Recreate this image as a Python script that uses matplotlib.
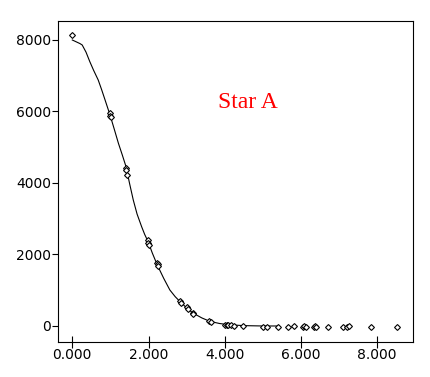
import numpy as np
import matplotlib
matplotlib.use("Agg")
import matplotlib.pyplot as plt

obs_x = [0.00, 0.98, 1.00, 1.02, 1.40, 1.41, 1.43, 1.98, 1.99, 2.02,
         2.22, 2.24, 2.26, 2.82, 2.84, 3.00, 3.03, 3.16, 3.18, 3.60,
         3.63, 4.01, 4.06, 4.09, 4.16, 4.25, 4.49, 5.01, 5.12, 5.39,
         5.67, 5.83, 6.05, 6.08, 6.12, 6.33, 6.36, 6.40, 6.72, 7.10,
         7.22, 7.25, 7.83, 8.51]
obs_y = [8140, 5950, 5880, 5840, 4420, 4350, 4230, 2400, 2330, 2260,
         1760, 1720, 1670, 690, 650, 540, 480, 370, 330, 140,
         110, 30, 20, 25, 15, 10, 0, -20, -20, -15,
         -15, -10, -15, -10, -15, -15, -10, -15, -15, -15,
         -15, -10, -15, -15]

# model curve
fit_x = [0.00, 0.10, 0.20, 0.26, 0.36, 0.46, 0.56, 0.68, 0.77, 0.86,
         0.99, 1.10, 1.21, 1.31, 1.41, 1.50, 1.60, 1.70, 1.82, 1.90,
         1.99, 2.10, 2.23, 2.40, 2.56, 2.70, 2.83, 3.04, 3.18, 3.40,
         3.61, 3.86, 4.10, 4.50, 5.00, 5.40]
fit_y = [8000, 7950, 7900, 7860, 7660, 7393, 7150, 6881, 6610, 6322,
         5902, 5510, 5111, 4790, 4456, 4000, 3524, 3130, 2776, 2560,
         2357, 2040, 1706, 1330, 1007, 820, 678, 466, 354, 225,
         130, 70, 35, 10, 0, 0]

xticks = [0, 2, 4, 6, 8]
yticks = [0, 2000, 4000, 6000, 8000]

plt.rcParams['font.family'] = 'DejaVu Sans'

fig = plt.figure(figsize=(4.31, 3.77), dpi=100)
ax = fig.add_axes([58 / 431, 35 / 377, 355 / 431, 321 / 377])

ax.plot(fit_x, fit_y, color='black', linewidth=0.8, zorder=2)
ax.plot(obs_x, obs_y, linestyle='none', marker='D', markersize=3.0,
        markerfacecolor='white', markeredgecolor='black',
        markeredgewidth=0.8, zorder=3)

ax.text(4.6, 6250, 'Star A', color='red', fontsize=17,
        family='Liberation Serif', ha='center', va='center')

ax.set_xlim(-0.375, 8.94)
ax.set_ylim(-448, 8531)
ax.set_xticks(xticks)
ax.set_xticklabels(['%.3f' % v for v in xticks])
ax.set_yticks(yticks)
ax.set_yticklabels([str(v) for v in yticks])

for s in ax.spines.values():
    s.set_linewidth(0.8)
ax.tick_params(axis='x', direction='inout', length=8, width=0.8,
               pad=0.5, labelsize=10)
ax.tick_params(axis='y', direction='out', length=4.3, width=0.8,
               pad=0.5, labelsize=10)

fig.savefig('out.png', dpi=100)
